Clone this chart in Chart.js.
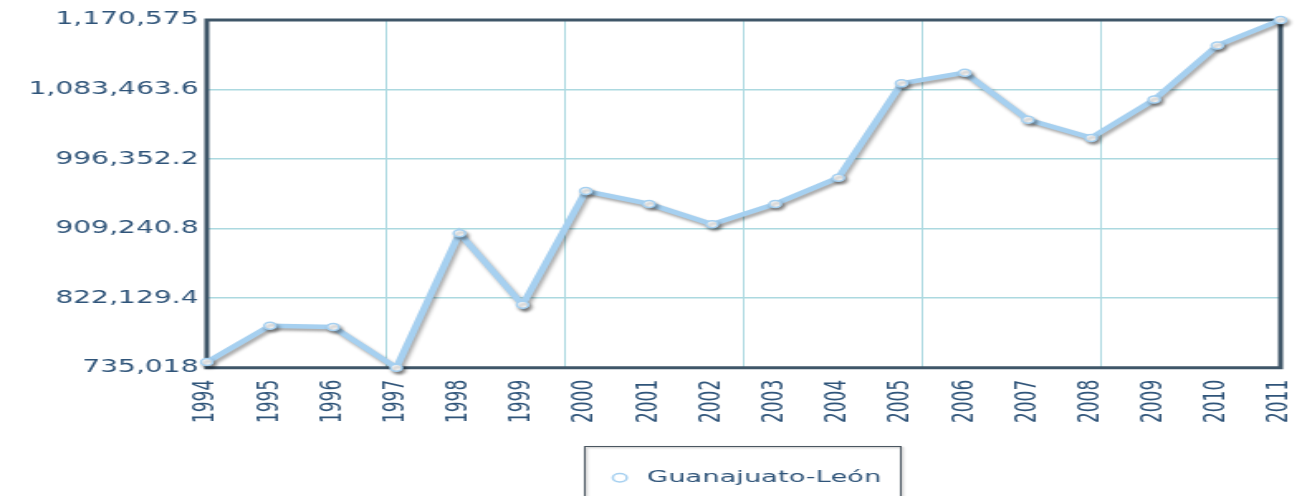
<!DOCTYPE html>
<html>
<head>
<meta charset="utf-8">
<script src="https://cdn.jsdelivr.net/npm/chart.js@4"></script>
<style>
	html, body { margin: 0; padding: 0; background: #fff; overflow: hidden; }
</style>
</head>
<body>
<!-- rendered narrow, shown wide -->
<canvas id="chart" width="790" height="496" style="width:1307px;height:496px"></canvas>
<script>
// Guanajuato-León yearly series
const years = ["1994", "1995", "1996", "1997", "1998", "1999", "2000", "2001", "2002",
	"2003", "2004", "2005", "2006", "2007", "2008", "2009", "2010", "2011"];
const leonValues = [742200, 787700, 786000, 735018, 903500, 813800, 956300, 940200, 914900,
	940200, 973100, 1091200, 1104600, 1045700, 1022900, 1070900, 1138700, 1170575];
const yTicks = [735018, 822129.4, 909240.8, 996352.2, 1083463.6, 1170575];
const seriesLabel = "Guanajuato-León";

const textColor = "#2f5479";
const gridColor = "#acd9e0";
const frameColor = "#3f5668";
const lineColor = "#a6d0f0";
const fontFamily = "Verdana, 'DejaVu Sans', sans-serif";

// frame around the plot, drawn under the line
const plotFrame = {
	id: "plotFrame",
	beforeDatasetsDraw(chart) {
		const { ctx, chartArea: a } = chart;
		ctx.save();
		ctx.strokeStyle = frameColor;
		ctx.lineWidth = 3;
		ctx.strokeRect(a.left, a.top, a.right - a.left, a.bottom - a.top);
		ctx.restore();
	}
};

// soft drop shadow under the series
const lineShadow = {
	id: "lineShadow",
	beforeDatasetDraw(chart) {
		const ctx = chart.ctx;
		ctx.save();
		ctx.shadowColor = "rgba(0,0,0,0.35)";
		ctx.shadowBlur = 3;
		ctx.shadowOffsetX = 1.5;
		ctx.shadowOffsetY = 2.5;
	},
	afterDatasetDraw(chart) {
		chart.ctx.restore();
	}
};

// box around the legend item
const legendBox = {
	id: "legendBox",
	afterDraw(chart) {
		const hb = chart.legend.legendHitBoxes[0];
		if (!hb) return;
		const ctx = chart.ctx;
		ctx.save();
		ctx.shadowColor = "rgba(0,0,0,0.3)";
		ctx.shadowBlur = 2;
		ctx.shadowOffsetX = 1;
		ctx.shadowOffsetY = 1;
		ctx.strokeStyle = "#4a5660";
		ctx.lineWidth = 1;
		ctx.strokeRect(Math.round(hb.left - 13) + 0.5, 446.5, Math.round(hb.width + 25), 70);
		ctx.restore();
	}
};

new Chart(document.getElementById("chart").getContext("2d"), {
	type: "line",
	data: {
		labels: years,
		datasets: [{
			label: seriesLabel,
			data: leonValues,
			borderColor: lineColor,
			borderWidth: 4.5,
			pointRadius: 3.5,
			pointBorderWidth: 1.5,
			pointBackgroundColor: "#fff",
			pointBorderColor: lineColor,
			tension: 0,
			fill: false,
			clip: false
		}]
	},
	options: {
		responsive: false,
		animation: false,
		devicePixelRatio: 1,
		layout: { padding: { top: 20, right: 0, left: 0, bottom: 0 } },
		plugins: {
			tooltip: { enabled: false },
			legend: {
				position: "bottom",
				fullSize: false,
				labels: {
					usePointStyle: true,
					pointStyle: "circle",
					boxHeight: 6,
					boxWidth: 16.5,
					padding: 12.75,
					color: textColor,
					font: { family: fontFamily, size: 16.5 }
				}
			}
		},
		scales: {
			x: {
				ticks: {
					autoSkip: false,
					minRotation: 90,
					maxRotation: 90,
					padding: 12,
					color: textColor,
					font: { family: fontFamily, size: 17 }
				},
				grid: { display: false, drawTicks: false },
				border: { display: false },
				afterFit(scale) {
					scale.height = 89;
					scale.paddingLeft = 0;
					scale.paddingRight = 16;
				}
			},
			xg: {
				type: "linear",
				position: "top",
				min: 0,
				max: 6,
				ticks: { display: false, stepSize: 1 },
				grid: { color: gridColor, lineWidth: 1, drawTicks: false },
				border: { display: false }
			},
			y: {
				min: yTicks[0],
				max: yTicks[yTicks.length - 1],
				afterBuildTicks(scale) {
					scale.ticks = yTicks.map(v => ({ value: v }));
				},
				ticks: {
					padding: 5,
					color: textColor,
					font: { family: fontFamily, size: 17 },
					callback: v => Number(v).toLocaleString("en-US", { maximumFractionDigits: 1 })
				},
				grid: { color: gridColor, lineWidth: 1.5, drawTicks: false },
				border: { display: false },
				afterFit(scale) { scale.width = 125; }
			}
		}
	},
	plugins: [plotFrame, lineShadow, legendBox]
});
</script>
</body>
</html>
